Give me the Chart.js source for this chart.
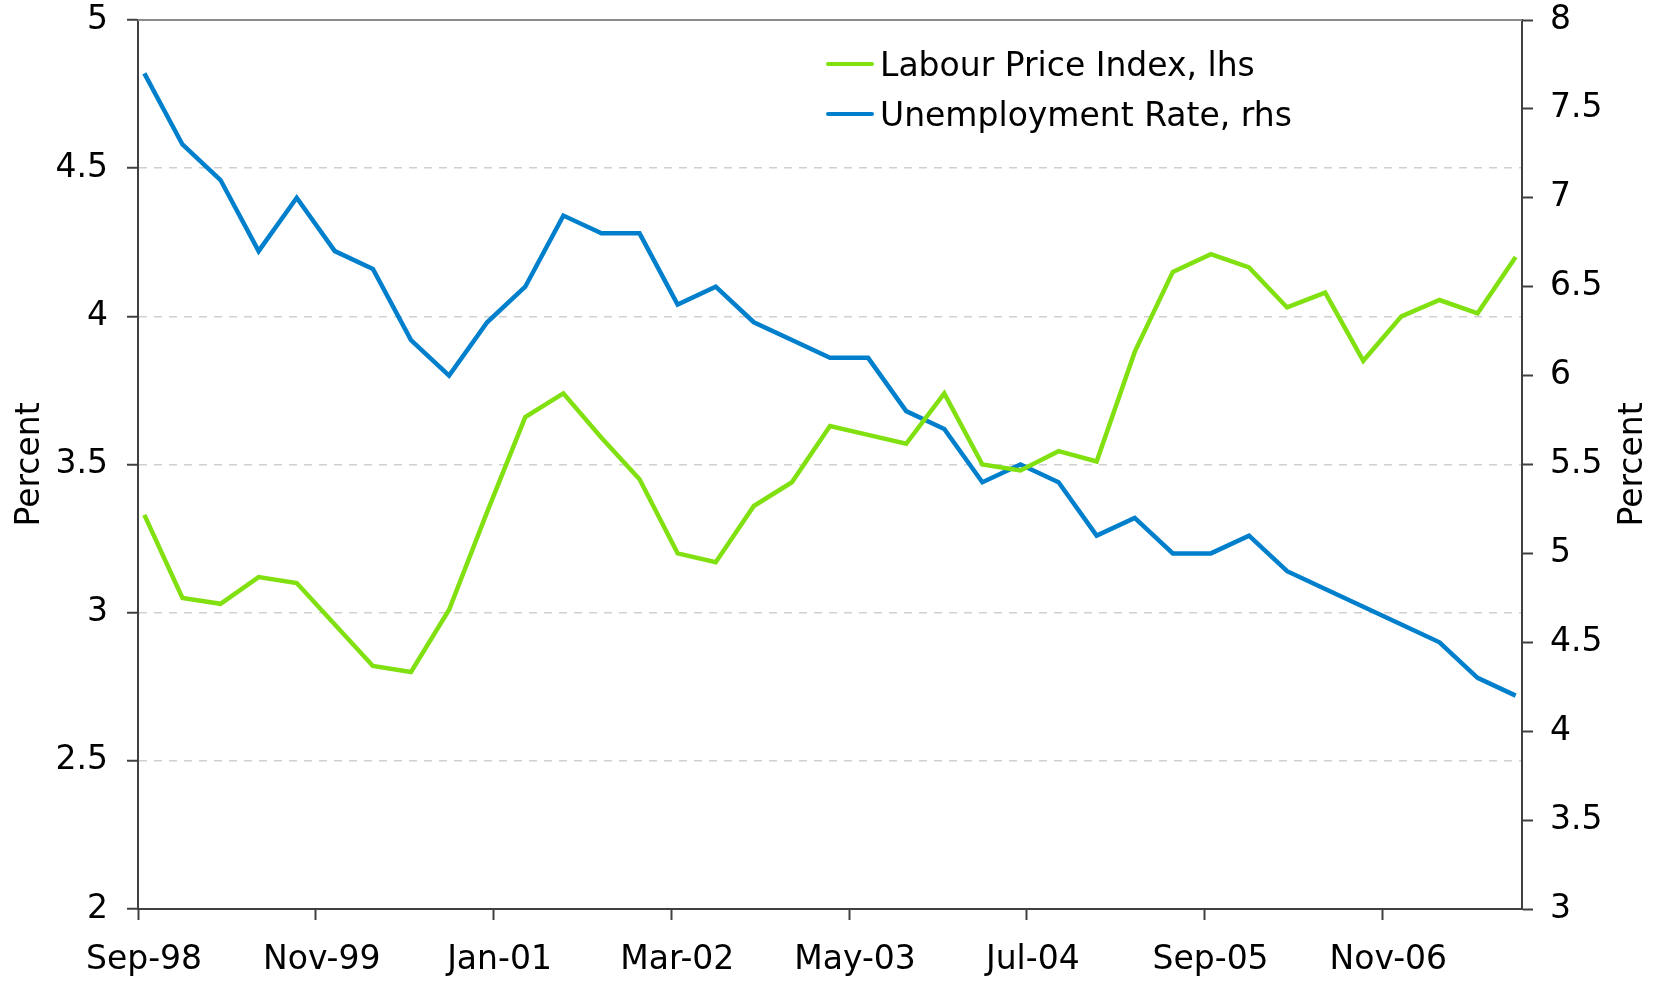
<!DOCTYPE html>
<html>
<head>
<meta charset="utf-8">
<script src="https://cdn.jsdelivr.net/npm/chart.js@4"></script>
<style>
  html, body { margin: 0; padding: 0; background: #fff; }
  #wrap { width: 1657px; height: 981px; }
</style>
</head>
<body>
<div id="wrap"><canvas id="chart"></canvas></div>
<script>
  // quarterly observations, Sep-98 .. Sep-07
  const quarters = [
    'Sep-98', 'Dec-98', 'Mar-99', 'Jun-99', 'Sep-99', 'Dec-99', 'Mar-00', 'Jun-00',
    'Sep-00', 'Dec-00', 'Mar-01', 'Jun-01', 'Sep-01', 'Dec-01', 'Mar-02', 'Jun-02',
    'Sep-02', 'Dec-02', 'Mar-03', 'Jun-03', 'Sep-03', 'Dec-03', 'Mar-04', 'Jun-04',
    'Sep-04', 'Dec-04', 'Mar-05', 'Jun-05', 'Sep-05', 'Dec-05', 'Mar-06', 'Jun-06',
    'Sep-06', 'Dec-06', 'Mar-07', 'Jun-07', 'Sep-07'
  ];
  const labourPriceIndex = [
    3.33, 3.05, 3.03, 3.12, 3.10, 2.96, 2.82, 2.80, 3.01, 3.34, 3.66, 3.74, 3.59,
    3.45, 3.20, 3.17, 3.36, 3.44, 3.63, 3.60, 3.57, 3.74, 3.50, 3.48, 3.545, 3.51,
    3.88, 4.15, 4.21, 4.165, 4.03, 4.08, 3.85, 4.00, 4.055, 4.01, 4.20
  ];
  const unemploymentRate = [
    7.7, 7.3, 7.1, 6.7, 7.0, 6.7, 6.6, 6.2, 6.0, 6.3, 6.5, 6.9, 6.8,
    6.8, 6.4, 6.5, 6.3, 6.2, 6.1, 6.1, 5.8, 5.7, 5.4, 5.5, 5.4, 5.1,
    5.2, 5.0, 5.0, 5.1, 4.9, 4.8, 4.7, 4.6, 4.5, 4.3, 4.2
  ];
  // date axis: ticks every 14 months, counted from Sep-98
  const tickLabels = ['Sep-98', 'Nov-99', 'Jan-01', 'Mar-02', 'May-03', 'Jul-04', 'Sep-05', 'Nov-06'];
  const tickMonths = [0, 14, 28, 42, 56, 70, 84, 98];
  const seriesNames = ['Labour Price Index, lhs', 'Unemployment Rate, rhs'];

  const FONT = "'DejaVu Sans', sans-serif";
  const FONT_SIZE = 33;
  const green = '#80e010';
  const blue = '#0080cc';

  function toPoints(values) {
    // each quarter sits in the middle of its month on the date axis
    return values.map((v, i) => ({ x: i * 3 + 0.5, y: v }));
  }

  function noScalePadding(scale) {
    scale.paddingTop = 0;
    scale.paddingBottom = 0;
    scale.paddingLeft = 0;
    scale.paddingRight = 0;
  }

  const extras = {
    id: 'extras',
    afterDraw(chart) {
      const { ctx, chartArea } = chart;
      ctx.save();
      // top frame line
      ctx.strokeStyle = '#8a8a8a';
      ctx.lineWidth = 2;
      ctx.beginPath();
      ctx.moveTo(chartArea.left, chartArea.top);
      ctx.lineTo(chartArea.right, chartArea.top);
      ctx.stroke();

      // right axis title, reading bottom to top
      ctx.fillStyle = '#000';
      ctx.font = FONT_SIZE + 'px ' + FONT;
      ctx.textAlign = 'center';
      ctx.textBaseline = 'middle';
      ctx.translate(1633, (chartArea.top + chartArea.bottom) / 2);
      ctx.rotate(-Math.PI / 2);
      ctx.fillText('Percent', 0, 0);
      ctx.restore();

      // legend
      ctx.save();
      ctx.font = FONT_SIZE + 'px ' + FONT;
      ctx.textBaseline = 'middle';
      ctx.textAlign = 'left';
      chart.data.datasets.forEach((ds, i) => {
        const y = chartArea.top + 44 + i * 50;
        ctx.strokeStyle = ds.borderColor;
        ctx.lineWidth = 4;
        ctx.lineCap = 'round';
        ctx.beginPath();
        ctx.moveTo(828, y);
        ctx.lineTo(872, y);
        ctx.stroke();
        ctx.fillStyle = '#000';
        ctx.fillText(ds.label, 880, y + 3);
      });
      ctx.restore();
    }
  };

  const ctx = document.getElementById('chart').getContext('2d');
  new Chart(ctx, {
    type: 'line',
    data: {
      datasets: [
        {
          label: seriesNames[0],
          data: toPoints(labourPriceIndex),
          borderColor: green,
          backgroundColor: green,
          borderWidth: 4.5,
          pointRadius: 0,
          tension: 0,
          yAxisID: 'y'
        },
        {
          label: seriesNames[1],
          data: toPoints(unemploymentRate),
          borderColor: blue,
          backgroundColor: blue,
          borderWidth: 4.5,
          pointRadius: 0,
          tension: 0,
          yAxisID: 'y1'
        }
      ]
    },
    options: {
      responsive: true,
      maintainAspectRatio: false,
      animation: false,
      layout: { padding: { top: 20, left: 0, right: 0, bottom: 0 } },
      plugins: {
        legend: { display: false },
        tooltip: { enabled: false }
      },
      scales: {
        x: {
          type: 'linear',
          min: 0,
          max: 109,
          afterBuildTicks(scale) {
            scale.ticks = tickMonths.map(v => ({ value: v }));
          },
          afterFit(scale) { scale.height = 72; noScalePadding(scale); },
          ticks: {
            font: { family: FONT, size: FONT_SIZE },
            color: '#000',
            padding: 21,
            labelOffset: 6,
            maxRotation: 0,
            autoSkip: false,
            callback: (value) => tickLabels[tickMonths.indexOf(value)]
          },
          grid: { drawOnChartArea: false, tickLength: 11, tickColor: '#404040', tickWidth: 2 },
          border: { color: '#404040', width: 2 }
        },
        y: {
          position: 'left',
          min: 2,
          max: 5,
          afterFit(scale) { scale.width = 138; noScalePadding(scale); },
          ticks: {
            stepSize: 0.5,
            font: { family: FONT, size: FONT_SIZE },
            color: '#000',
            padding: 19,
            callback: (value) => String(value)
          },
          grid: {
            color: (c) => (c.tick && (c.tick.value === 2 || c.tick.value === 5)) ? 'rgba(0,0,0,0)' : '#d0d0d0',
            lineWidth: 1.5,
            tickLength: 11,
            tickColor: '#404040',
            tickWidth: 2,
            tickBorderDash: []
          },
          border: { color: '#404040', width: 2, dash: [8, 7] },
          title: {
            display: true,
            text: 'Percent',
            font: { family: FONT, size: FONT_SIZE },
            color: '#000',
            padding: { top: 11, bottom: 0 }
          }
        },
        y1: {
          position: 'right',
          min: 3,
          max: 8,
          afterFit(scale) { scale.width = 135; noScalePadding(scale); },
          ticks: {
            stepSize: 0.5,
            font: { family: FONT, size: FONT_SIZE },
            color: '#000',
            padding: 17,
            callback: (value) => String(value)
          },
          grid: { drawOnChartArea: false, tickLength: 11, tickColor: '#404040', tickWidth: 2 },
          border: { color: '#404040', width: 2 }
        }
      }
    },
    plugins: [extras]
  });
</script>
</body>
</html>
